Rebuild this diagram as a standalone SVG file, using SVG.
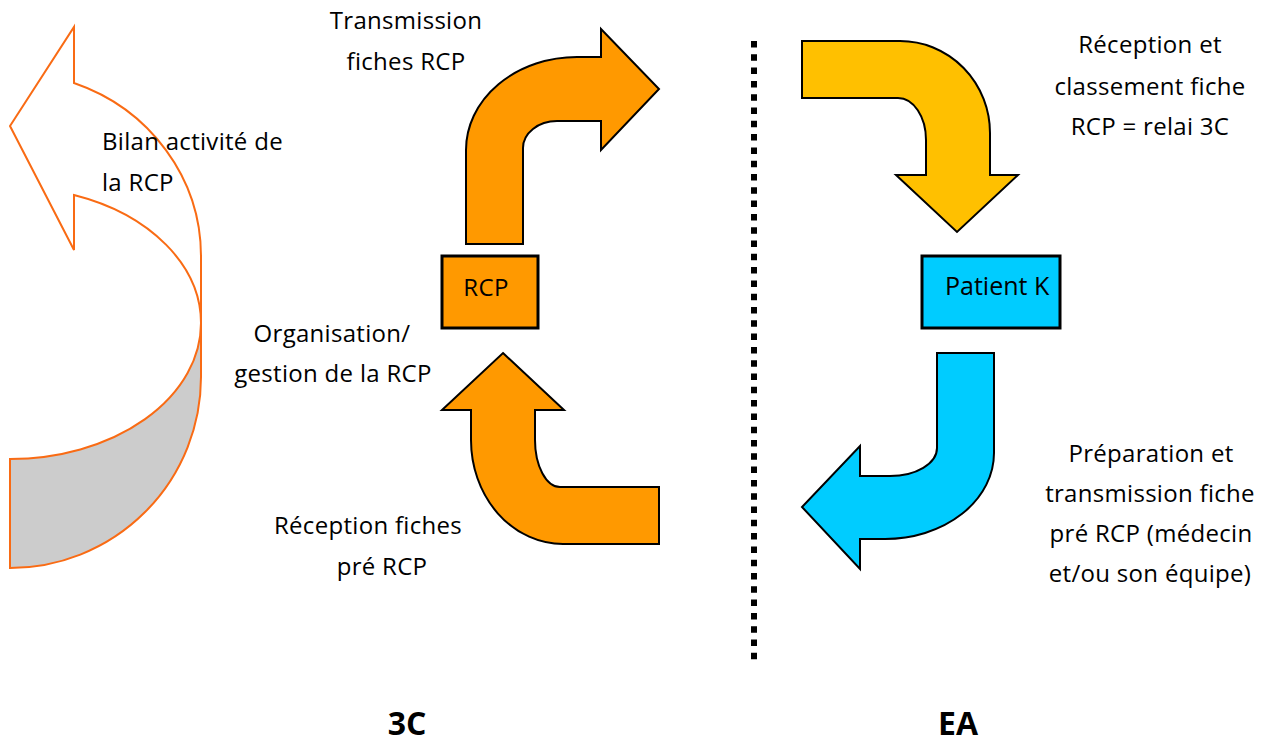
<svg xmlns="http://www.w3.org/2000/svg" width="1277" height="745" viewBox="0 0 1277 745">
<style>
  .lbl { font-family: "Open Sans", "Noto Sans", "Liberation Sans", sans-serif; font-size: 24px; letter-spacing: 0.3px; fill: #000; text-anchor: middle; }
  .big { font-family: "Open Sans", "Noto Sans", "Liberation Sans", sans-serif; font-size: 32px; font-weight: bold; fill: #000; text-anchor: middle; }
  .arrow { stroke: #000; stroke-width: 2; stroke-linejoin: miter; }
  .box { stroke: #000; stroke-width: 3; }
  .bilan { stroke: #F96B14; stroke-width: 2; stroke-linejoin: miter; }
</style>
<rect width="1277" height="745" fill="#fff"/>

<g id="bilan-arrow">
  <path class="bilan" fill="#CCCCCC" d="M10,459 A191,136 0 0 0 201,323 L201,377 A191,191 0 0 1 10,568 Z"/>
  <path class="bilan" fill="#FFFFFF" d="M74,195 L74,250 L10,126 L74,27 L74,83 A191,184 0 0 1 201,256 L201,323 A191,136 0 0 0 74,195 Z"/>
</g>

<g id="connectors">
  <line x1="754" y1="41" x2="754" y2="662" stroke="#000" stroke-width="6" stroke-dasharray="6.5 6.8"/>
  <path id="arrow-transmission" class="arrow" fill="#FF9900" d="M466,244 L466,150 A111,93 0 0 1 577,57 L601,57 L601,29 L659,89 L601,150 L601,121 L557,121 A34,27 0 0 0 523,148 L523,244 Z"/>
  <path id="arrow-reception" class="arrow" fill="#FF9900" d="M503,353 L564,410 L535,410 L535,440 A25,47 0 0 0 560,487 L659,487 L659,544 L563,544 A92,104 0 0 1 471,440 L471,410 L442,410 Z"/>
  <path id="arrow-classement" class="arrow" fill="#FFC000" d="M802,41 L900,41 A90,92 0 0 1 990,133 L990,175 L1018,175 L957,232 L896,175 L926,175 L926,140 A28,42 0 0 0 898,98 L802,98 Z"/>
  <path id="arrow-preparation" class="arrow" fill="#00CCFF" d="M937,353 L994,353 L994,453 A109,86 0 0 1 885,539 L860,539 L860,569 L802,507 L860,446 L860,476 L890,476 A47,28 0 0 0 937,448 Z"/>
</g>

<g id="node-rcp">
  <rect class="box" x="442" y="256" width="96" height="72" fill="#FF9900"/>
  <text class="lbl" x="486" y="296">RCP</text>
</g>

<g id="node-patient">
  <rect class="box" x="922" y="256" width="138" height="72" fill="#00CCFF"/>
  <text class="lbl" x="945" y="295" style="text-anchor:start;font-size:25px;letter-spacing:0">Patient K</text>
</g>

<g id="label-transmission">
  <text class="lbl" x="406" y="29">Transmission</text>
  <text class="lbl" x="406" y="70">fiches RCP</text>
</g>

<g id="label-bilan">
  <text class="lbl" x="102" y="150" style="text-anchor:start">Bilan activité de</text>
  <text class="lbl" x="102" y="191" style="text-anchor:start">la RCP</text>
</g>

<g id="label-organisation">
  <text class="lbl" x="332" y="342">Organisation/</text>
  <text class="lbl" x="333" y="382">gestion de la RCP</text>
</g>

<g id="label-reception-fiches">
  <text class="lbl" x="368" y="534">Réception fiches</text>
  <text class="lbl" x="382" y="575">pré RCP</text>
</g>

<g id="label-reception-classement">
  <text class="lbl" x="1150" y="53">Réception et</text>
  <text class="lbl" x="1150" y="95">classement fiche</text>
  <text class="lbl" x="1150" y="135">RCP = relai 3C</text>
</g>

<g id="label-preparation">
  <text class="lbl" x="1151" y="462">Préparation et</text>
  <text class="lbl" x="1150" y="502">transmission fiche</text>
  <text class="lbl" x="1151" y="542">pré RCP (médecin</text>
  <text class="lbl" x="1150" y="582">et/ou son équipe)</text>
</g>

<g id="label-3c">
  <text class="big" x="407" y="735">3C</text>
</g>
<g id="label-ea">
  <text class="big" x="958" y="735">EA</text>
</g>
</svg>
